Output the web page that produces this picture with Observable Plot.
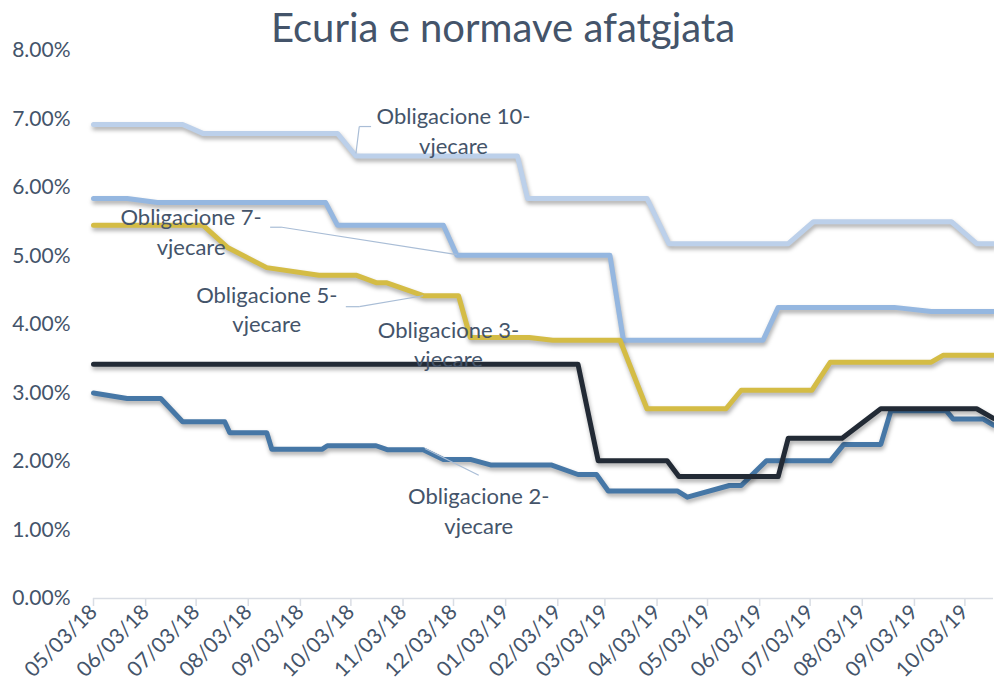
<!DOCTYPE html>
<html><head><meta charset="utf-8">
<script src="https://cdn.jsdelivr.net/npm/d3@7"></script>
<script src="https://cdn.jsdelivr.net/npm/@observablehq/plot@0.6"></script>
<style>
body{margin:0;background:#fff;}
#title{height:30px;position:relative;z-index:1;}
#title span{position:absolute;left:12px;right:0;top:3px;text-align:center;font-family:Lato,sans-serif;font-size:40px;line-height:1.2;color:#44546a;white-space:nowrap;}
#chart svg g[aria-label="line"] path{filter:drop-shadow(1.5px 3px 2px rgba(0,0,0,0.33));}
</style></head>
<body>
<div id="title"><span>Ecuria e normave afatgjata</span></div>
<div id="chart"></div>
<script>
const seriesNames = ["Obligacione 10-vjecare","Obligacione 7-vjecare","Obligacione 5-vjecare","Obligacione 2-vjecare","Obligacione 3-vjecare"];
const seriesColors = ["#bcd0ea","#95b7e0","#d4bc45","#4677a6","#222a35"];

const dates10 = ["2018-05-03","2018-06-25","2018-07-07","2018-09-25","2018-10-06","2019-01-10","2019-01-16","2019-03-28","2019-04-10","2019-06-20","2019-07-05","2019-09-25","2019-10-10","2019-10-20"];
const vals10 = [6.92,6.92,6.79,6.79,6.46,6.46,5.84,5.84,5.18,5.18,5.50,5.50,5.18,5.18];

const dates7 = ["2018-05-03","2018-05-23","2018-06-10","2018-09-18","2018-09-25","2018-11-27","2018-12-05","2019-03-06","2019-03-14","2019-06-05","2019-06-14","2019-08-22","2019-09-13","2019-10-20"];
const vals7 = [5.84,5.84,5.78,5.78,5.45,5.45,5.01,5.01,3.77,3.77,4.25,4.25,4.19,4.19];

const dates5 = ["2018-05-03","2018-07-07","2018-07-22","2018-08-14","2018-09-14","2018-10-06","2018-10-18","2018-10-24","2018-11-15","2018-12-06","2018-12-13","2019-01-17","2019-01-31","2019-03-12","2019-03-28","2019-05-14","2019-05-23","2019-07-04","2019-07-15","2019-09-13","2019-09-20","2019-10-20"];
const vals5 = [5.45,5.45,5.12,4.83,4.72,4.72,4.61,4.61,4.42,4.42,3.81,3.81,3.77,3.77,2.77,2.77,3.04,3.04,3.45,3.45,3.55,3.55];

const dates3 = ["2018-05-03","2019-02-15","2019-02-27","2019-04-09","2019-04-16","2019-06-14","2019-06-20","2019-07-22","2019-08-14","2019-10-10","2019-10-20"];
const vals3 = [3.42,3.42,2.01,2.01,1.78,1.78,2.34,2.34,2.77,2.77,2.63];

const dates2 = ["2018-05-03","2018-05-23","2018-06-12","2018-06-25","2018-07-20","2018-07-23","2018-08-14","2018-08-17","2018-09-16","2018-09-19","2018-10-18","2018-10-25","2018-11-15","2018-11-27","2018-12-13","2018-12-25","2019-01-30","2019-02-15","2019-02-26","2019-03-05","2019-04-15","2019-04-21","2019-05-16","2019-05-23","2019-06-07","2019-07-15","2019-07-23","2019-08-14","2019-08-20","2019-09-22","2019-09-26","2019-10-14","2019-10-20"];
const vals2 = [3.00,2.92,2.92,2.58,2.58,2.42,2.42,2.18,2.18,2.23,2.23,2.17,2.17,2.03,2.03,1.95,1.95,1.81,1.81,1.57,1.57,1.48,1.65,1.65,2.01,2.01,2.25,2.25,2.74,2.74,2.62,2.62,2.53];

const xTickDates = ["2018-05-03","2018-06-03","2018-07-03","2018-08-03","2018-09-03","2018-10-03","2018-11-03","2018-12-03","2019-01-03","2019-02-03","2019-03-03","2019-04-03","2019-05-03","2019-06-03","2019-07-03","2019-08-03","2019-09-03","2019-10-03"];
const yTicks = [0,1,2,3,4,5,6,7,8];

const labelTexts = ["Obligacione 10-\nvjecare","Obligacione 7-\nvjecare","Obligacione 5-\nvjecare","Obligacione 3-\nvjecare","Obligacione 2-\nvjecare"];
const labelDates = ["2018-12-03","2018-06-30","2018-08-14","2018-11-30","2018-12-18"];
const labelVals = [6.85,5.37,4.24,3.73,1.30];

const leader10 = [["2018-10-15",6.89],["2018-10-08",6.89],["2018-10-06",6.50]];
const leader7 = [["2018-08-16",5.42],["2018-08-23",5.42],["2018-12-05",5.02]];
const leader5 = [["2018-09-30",4.26],["2018-10-08",4.26],["2018-11-15",4.42]];
const leader2 = [["2018-11-16",2.19],["2018-12-18",1.80]];

const D = s => new Date(s);
const seriesData = [[dates10,vals10],[dates7,vals7],[dates5,vals5],[dates2,vals2],[dates3,vals3]];
const rows = [];
seriesData.forEach(([ds,vs],i) => ds.forEach((d,j) => rows.push({series: seriesNames[i], date: D(d), value: vs[j]})));

const labels = labelTexts.map((t,i) => ({text: t, date: D(labelDates[i]), value: labelVals[i]}));
const segs = [];
[leader10, leader7, leader5, leader2].forEach(pts => {
  for (let k = 0; k < pts.length - 1; k++) segs.push({x1: D(pts[k][0]), y1: pts[k][1], x2: D(pts[k+1][0]), y2: pts[k+1][1]});
});

const chart = Plot.plot({
  width: 994, height: 660,
  marginLeft: 93, marginRight: 1, marginTop: 20, marginBottom: 92,
  style: {fontFamily: "Lato, sans-serif", fontSize: "21px", color: "#44546a", background: "white"},
  x: {type: "utc", domain: [D("2018-05-03"), D("2019-10-20")]},
  y: {domain: [0, 8]},
  color: {domain: seriesNames, range: seriesColors},
  marks: [
    Plot.axisY({ticks: yTicks, tickFormat: d => d.toFixed(2) + "%", tickSize: 0, tickPadding: 23, fontSize: 21, fill: "#44546a", label: null}),
    Plot.ruleY([0], {stroke: "#d9dde4", strokeWidth: 1.5}),
    Plot.axisX({ticks: xTickDates.map(D), tickFormat: d3.utcFormat("%m/%d/%y"), tickRotate: -45, tickSize: 8, tickPadding: 2, stroke: "#d9dde4", strokeWidth: 1.5, fill: "#44546a", fontSize: 21, label: null}),
    Plot.line(rows, {x: "date", y: "value", z: "series", stroke: "series", strokeWidth: 5, strokeLinejoin: "round"}),
    Plot.link(segs, {x1: "x1", y1: "y1", x2: "x2", y2: "y2", stroke: "#a9bdd6", strokeWidth: 1.2}),
    Plot.text(labels, {x: "date", y: "value", text: "text", lineHeight: 1.35, fontSize: 22, fill: "#44546a"})
  ]
});
document.getElementById("chart").appendChild(chart);
</script>
</body></html>
